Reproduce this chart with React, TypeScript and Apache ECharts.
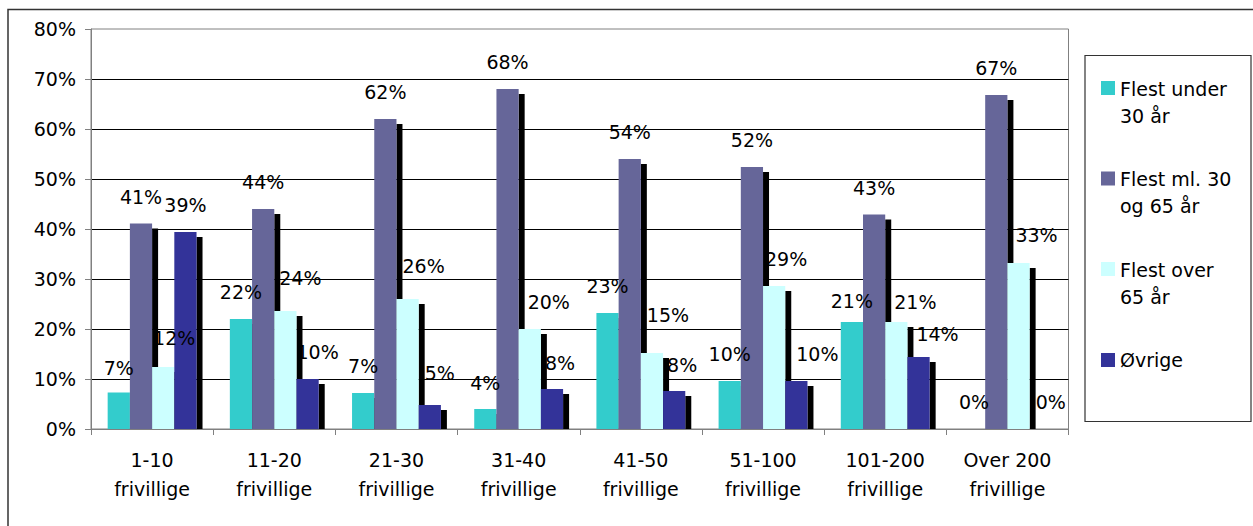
import React, { useEffect, useRef } from "react";
import * as echarts from "echarts";

const categories = [
  "1-10\nfrivillige",
  "11-20\nfrivillige",
  "21-30\nfrivillige",
  "31-40\nfrivillige",
  "41-50\nfrivillige",
  "51-100\nfrivillige",
  "101-200\nfrivillige",
  "Over 200\nfrivillige",
];
const seriesNames = ["Flest under\n30 år", "Flest ml. 30\nog 65 år", "Flest over\n65 år", "Øvrige"];
const under30 = [7.3, 22.0, 7.2, 4.0, 23.2, 9.6, 21.4, 0];
const between30and65 = [41.1, 44.0, 62.0, 68.0, 54.0, 52.4, 42.9, 66.8];
const over65 = [12.4, 23.6, 26.0, 20.0, 15.2, 28.6, 21.4, 33.2];
const others = [39.4, 10.0, 4.8, 8.0, 7.6, 9.6, 14.4, 0];
const yMin = 0;
const yMax = 80;
const yStep = 10;

// label placement tweaks (pixels, relative to bar top centre) as laid out in the original
const labelDx = [
  [0, 0, 0, 0, 0, 0, 0, 0],
  [0, 0, 0, 0, 0, 0, 0, 0],
  [11, 15, 16, 19, 16, 12, 19, 18],
  [0, 10, 10, 8, 8, 21, 19, 10],
];
const labelDy = [
  [-25, -27, -27, -26, -27, -27, -21, -27],
  [-27, -27, -27, -27, -27, -27, -27, -27],
  [-29.5, -33, -33, -27, -38, -27, -20, -28],
  [-27, -27, -32.5, -26.5, -26.5, -27, -23, -27],
];

const colors = ["#33CCCC", "#666699", "#CCFFFF", "#333399"];
const FONT = "DejaVu Sans";

const makeRender = (s: number) => (params: any, api: any) => {
  const idx = api.value(0);
  const v = api.value(1);
  const base = api.coord([idx, 0]);
  const top = api.coord([idx, v]);
  const bandW = api.size([1, 0])[0];
  const barW = bandW / 5.5;
  const x0 = base[0] - 2 * barW + s * barW;
  const h = base[1] - top[1];
  const children: any[] = [];
  if (h > 5) {
    children.push({
      type: "rect",
      shape: { x: x0 + barW, y: top[1] + 5, width: 6, height: h - 5 },
      style: { fill: "#000" },
    });
  }
  if (h > 0) {
    children.push({
      type: "rect",
      shape: { x: x0, y: top[1], width: barW, height: h },
      style: { fill: api.visual("color") },
    });
  }
  children.push({
    type: "text",
    z2: 100,
    x: x0 + barW / 2 + labelDx[s][params.dataIndex],
    y: top[1] + labelDy[s][params.dataIndex],
    style: {
      text: Math.round(v) + "%",
      fill: "#000",
      fontSize: 19,
      fontFamily: FONT,
      align: "center",
      verticalAlign: "middle",
    },
  });
  return { type: "group", children };
};

export default function App() {
  const ref = useRef<HTMLDivElement>(null);
  useEffect(() => {
    if (!ref.current) return;
    const chart = echarts.init(ref.current, undefined, { renderer: "svg" });
    const seriesData = [under30, between30and65, over65, others];
    chart.setOption({
      animation: false,
      backgroundColor: "#fff",
      grid: {
        left: 91,
        top: 29,
        right: 184.5,
        height: 400,
        show: true,
        borderColor: "#808080",
        borderWidth: 1,
        backgroundColor: "transparent",
      },
      xAxis: {
        type: "category",
        data: categories,
        axisLine: { lineStyle: { color: "#808080", width: 1 } },
        axisTick: { show: true, length: 6, lineStyle: { color: "#808080" } },
        axisLabel: {
          color: "#000",
          fontSize: 19,
          fontFamily: FONT,
          lineHeight: 29,
          margin: 16,
          interval: 0,
        },
        splitLine: { show: false },
      },
      yAxis: {
        type: "value",
        min: yMin,
        max: yMax,
        interval: yStep,
        axisLine: { show: true, lineStyle: { color: "#808080", width: 1 } },
        axisTick: { show: true, length: 6, lineStyle: { color: "#808080" } },
        axisLabel: {
          formatter: "{value}%",
          color: "#000",
          fontSize: 19,
          fontFamily: FONT,
          margin: 15,
        },
        splitLine: { show: true, showMaxLine: false, lineStyle: { color: "#000", width: 1 } },
      },
      legend: [
        {
          data: seriesNames.slice(0, 3),
          orient: "vertical",
          left: 1101,
          top: 75,
          padding: 0,
          itemWidth: 14,
          itemHeight: 42,
          itemGap: 36.5,
          selectedMode: false,
          icon: "path://M0,0L14,0L14,14L0,14Z M0,42L0.01,42",
          itemStyle: { borderWidth: 0 },
          textStyle: { color: "#000", fontSize: 19, fontFamily: FONT, lineHeight: 27 },
        },
        {
          data: seriesNames.slice(3),
          orient: "vertical",
          left: 1101,
          top: 346.5,
          padding: 0,
          itemWidth: 14,
          itemHeight: 14,
          selectedMode: false,
          icon: "rect",
          itemStyle: { borderWidth: 0 },
          textStyle: { color: "#000", fontSize: 19, fontFamily: FONT, lineHeight: 27 },
        },
      ],
      graphic: [
        {
          type: "rect",
          shape: { x: 8, y: 9.5, width: 1400, height: 700 },
          style: { fill: "none", stroke: "#333", lineWidth: 1.5 },
          silent: true,
        },
        {
          type: "rect",
          shape: { x: 1085, y: 55.5, width: 166, height: 366 },
          style: { fill: "none", stroke: "#333", lineWidth: 1.2 },
          silent: true,
        },
      ],
      series: seriesData.map((arr, s) => ({
        type: "custom",
        name: seriesNames[s],
        renderItem: makeRender(s),
        itemStyle: { color: colors[s] },
        encode: { x: 0, y: 1 },
        clip: false,
        data: arr.map((v, i) => [i, v]),
      })),
    });
    return () => chart.dispose();
  }, []);
  return (
    <div
      ref={ref}
      style={{ position: "fixed", left: 0, top: 0, width: 1253, height: 526 }}
    />
  );
}
